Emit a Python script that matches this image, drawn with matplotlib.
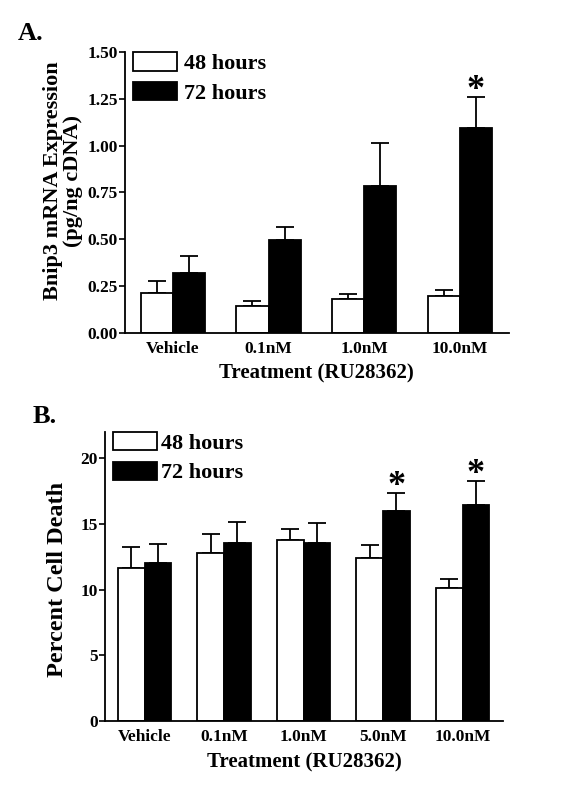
import numpy as np
import matplotlib
matplotlib.use('Agg')
import matplotlib.pyplot as plt

plt.rcParams['font.family'] = ['Liberation Serif', 'DejaVu Serif']
plt.rcParams['font.weight'] = 'bold'
plt.rcParams['axes.labelweight'] = 'bold'

# panel A: Bnip3 mRNA expression
cats_a = ['Vehicle', '0.1nM', '1.0nM', '10.0nM']
mean_a_48 = [0.214, 0.141, 0.177, 0.195]
err_a_48 = [0.061, 0.028, 0.028, 0.032]
mean_a_72 = [0.319, 0.494, 0.784, 1.096]
err_a_72 = [0.090, 0.072, 0.232, 0.166]
star_a = [False, False, False, True]

# panel B: percent cell death
cats_b = ['Vehicle', '0.1nM', '1.0nM', '5.0nM', '10.0nM']
mean_b_48 = [11.63, 12.77, 13.77, 12.39, 10.09]
err_b_48 = [1.64, 1.48, 0.83, 1.00, 0.68]
mean_b_72 = [12.01, 13.52, 13.57, 15.99, 16.40]
err_b_72 = [1.46, 1.64, 1.46, 1.36, 1.86]
star_b = [False, False, False, True, True]

labels = ['48 hours', '72 hours']


def draw_panel(ax, cats, m48, e48, m72, e72, stars, ylim, yticks, fmt,
               ylabel, ylab_xy, textpad):
    x = np.arange(len(cats))
    w = 0.335
    kw = dict(width=w, edgecolor='black', linewidth=1.3, zorder=2)
    ax.bar(x - w / 2, m48, color='white', label=labels[0], **kw)
    ax.bar(x + w / 2, m72, color='black', label=labels[1], **kw)
    ekw = dict(fmt='none', ecolor='black', elinewidth=1.3, capsize=6.5,
               capthick=1.3, zorder=1)
    ax.errorbar(x - w / 2, m48, yerr=[np.zeros(len(x)), e48], **ekw)
    ax.errorbar(x + w / 2, m72, yerr=[np.zeros(len(x)), e72], **ekw)
    for i, s in enumerate(stars):
        if s:
            ax.annotate('*', (x[i] + w / 2, m72[i] + e72[i]),
                        xytext=(0, -7.5), textcoords='offset points',
                        ha='center', va='bottom', fontsize=26,
                        fontweight='bold')

    ax.set_xlim(-0.5, len(cats) - 0.49)
    ax.set_ylim(*ylim)
    ax.set_yticks(yticks)
    ax.set_yticklabels([fmt.format(v) for v in yticks])
    ax.set_xticks(x)
    ax.set_xticklabels(cats)
    ax.tick_params(axis='x', length=0, pad=6, labelsize=12.5)
    ax.tick_params(axis='y', length=4, width=1.2, pad=1, labelsize=12.5)
    for sp in ['top', 'right']:
        ax.spines[sp].set_visible(False)
    for sp in ['left', 'bottom']:
        ax.spines[sp].set_linewidth(1.3)

    ax.set_xlabel('Treatment (RU28362)', fontsize=15, labelpad=5,
                  fontweight='bold')
    ax.set_ylabel(ylabel, fontsize=16, linespacing=1.0, fontweight='bold')
    ax.yaxis.set_label_coords(*ylab_xy)

    ax.legend(loc='upper left', bbox_to_anchor=(0.02, 1.0), frameon=False,
              fontsize=16, handlelength=2.0, handleheight=0.9,
              labelspacing=0.35, handletextpad=textpad, borderpad=0,
              borderaxespad=0, prop={'weight': 'bold', 'size': 16})


fig = plt.figure(figsize=(5.73, 7.90), dpi=100)

ax_a = fig.add_axes([0.218, 0.579, 0.670, 0.355])
draw_panel(ax_a, cats_a, mean_a_48, err_a_48, mean_a_72, err_a_72, star_a,
           (0, 1.5), np.arange(0, 1.51, 0.25), '{:.2f}',
           'Bnip3 mRNA Expression\n(pg/ng cDNA)', (-0.11, 0.54), 0.3)

ax_b = fig.add_axes([0.183, 0.0873, 0.695, 0.366])
draw_panel(ax_b, cats_b, mean_b_48, err_b_48, mean_b_72, err_b_72, star_b,
           (0, 22), [0, 5, 10, 15, 20], '{:.0f}',
           'Percent Cell Death', (-0.093, 0.49), 0.15)
ax_b.yaxis.label.set_fontsize(17.5)

fig.text(18 / 573, 1 - 40 / 790, 'A.', fontsize=19, fontweight='bold')
fig.text(33 / 573, 1 - 423 / 790, 'B.', fontsize=19, fontweight='bold')

fig.savefig('out.png', dpi=100)
